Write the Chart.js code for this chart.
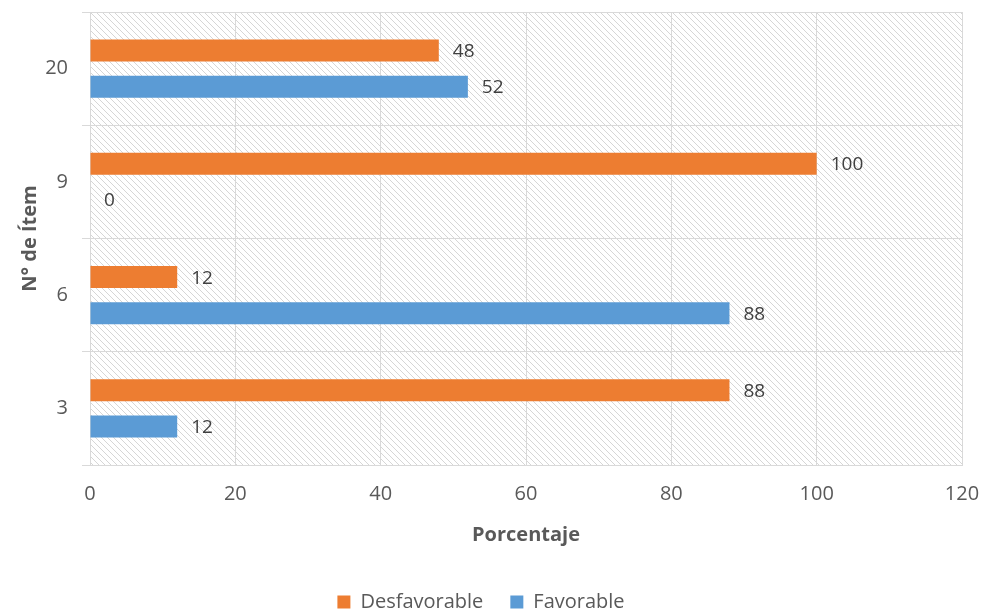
<!DOCTYPE html>
<html>
<head>
<meta charset="utf-8">
<script src="https://cdn.jsdelivr.net/npm/chart.js@4/dist/chart.umd.min.js"></script>
<style>
  body { margin: 0; background: #fff; }
  #wrap { width: 981px; height: 612px; }
</style>
</head>
<body>
<div id="wrap"><canvas id="chart" width="981" height="612"></canvas></div>
<script>
const items = ['20', '9', '6', '3'];
const desfavorable = [48, 100, 12, 88];
const favorable = [52, 0, 88, 12];
const xTicks = [0, 20, 40, 60, 80, 100, 120];

const textGray = '#595959';
const gridGray = '#d9d9d9';
const font = "'Open Sans', 'Liberation Sans', sans-serif";

// diagonal hatch for the plot area
const makeHatch = (ctx) => {
  const tile = document.createElement('canvas');
  tile.width = 6;
  tile.height = 6;
  const t = tile.getContext('2d');
  t.strokeStyle = '#d6d6d6';
  t.lineWidth = 1;
  t.beginPath();
  t.moveTo(-1, -1);
  t.lineTo(7, 7);
  t.moveTo(-4, 2);
  t.lineTo(4, 10);
  t.moveTo(2, -4);
  t.lineTo(10, 4);
  t.stroke();
  return ctx.createPattern(tile, 'repeat');
};

const hatchPlugin = {
  id: 'hatch',
  beforeDraw(chart) {
    const { ctx, chartArea } = chart;
    ctx.save();
    ctx.fillStyle = makeHatch(ctx);
    ctx.fillRect(chartArea.left, chartArea.top, chartArea.right - chartArea.left, chartArea.bottom - chartArea.top);
    ctx.restore();
  }
};

const valueLabels = {
  id: 'valueLabels',
  afterDatasetsDraw(chart) {
    const { ctx } = chart;
    ctx.save();
    ctx.font = '19px ' + font;
    ctx.fillStyle = '#404040';
    ctx.textAlign = 'left';
    ctx.textBaseline = 'middle';
    chart.data.datasets.forEach((ds, i) => {
      chart.getDatasetMeta(i).data.forEach((bar, j) => {
        ctx.fillText(String(ds.data[j]), bar.x + 14, bar.y + 1);
      });
    });
    ctx.restore();
  }
};

new Chart(document.getElementById('chart'), {
  type: 'bar',
  data: {
    labels: items,
    datasets: [
      {
        label: 'Desfavorable',
        data: desfavorable,
        backgroundColor: '#ed7d31',
        categoryPercentage: 0.636,
        barPercentage: 0.611
      },
      {
        label: 'Favorable',
        data: favorable,
        backgroundColor: '#5b9bd5',
        categoryPercentage: 0.636,
        barPercentage: 0.611
      }
    ]
  },
  options: {
    indexAxis: 'y',
    responsive: false,
    animation: false,
    layout: { padding: { top: 12, right: 19, left: 0, bottom: -10 } },
    scales: {
      x: {
        min: 0,
        max: 120,
        afterBuildTicks: (scale) => {
          scale.ticks = xTicks.map((v) => ({ value: v }));
        },
        afterFit: (scale) => {
          scale.height = 100;
          scale.paddingLeft = 0;
          scale.paddingRight = 0;
        },
        grid: { color: gridGray, drawTicks: false },
        border: { color: gridGray },
        ticks: { color: textGray, font: { size: 20, family: font }, padding: 17 },
        title: {
          display: true,
          text: 'Porcentaje',
          color: textGray,
          font: { size: 20, weight: 'bold', family: font },
          padding: { top: 0, bottom: 18 }
        }
      },
      y: {
        afterFit: (scale) => {
          scale.width = 90;
          scale.paddingTop = 0;
          scale.paddingBottom = 0;
        },
        grid: { color: gridGray, offset: true, tickLength: 8 },
        border: { color: gridGray },
        ticks: { color: textGray, font: { size: 20, family: font }, padding: 14 },
        title: {
          display: true,
          text: 'N° de Ítem',
          color: textGray,
          font: { size: 20, weight: 'bold', family: font },
          padding: { top: 18, bottom: 0 }
        }
      }
    },
    plugins: {
      legend: {
        position: 'bottom',
        labels: {
          color: textGray,
          boxWidth: 13,
          boxHeight: 13,
          padding: 27,
          font: { size: 20, family: font }
        }
      },
      tooltip: { enabled: false }
    }
  },
  plugins: [hatchPlugin, valueLabels]
});
</script>
</body>
</html>
